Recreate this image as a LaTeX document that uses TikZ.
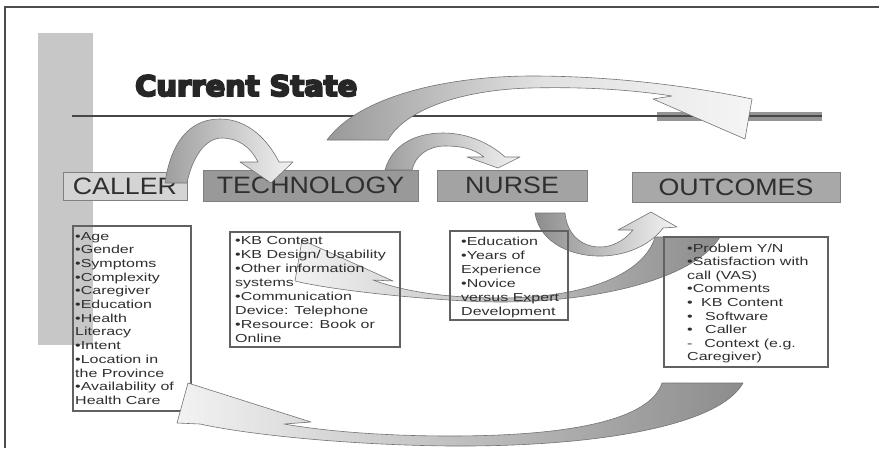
\documentclass[tikz,border=0pt]{standalone}
\usepackage{graphicx}
\usepackage{fontspec}
\setmainfont{Liberation Sans}
\newfontfamily\titlefont{DejaVu Sans}
\definecolor{ink}{HTML}{2F2F2F}

% stretched category label
\newcommand\catlabel[1]{\scalebox{1.13}[1]{#1}}
% block of detail lines: #1 = line distance, #2 = lines
\newcommand\detaillines[2]{\scalebox{1.38}[1]{\fontsize{11.6}{#1}\selectfont\begin{tabular}[t]{@{}l@{}}#2\end{tabular}}}
% heavy title text: glyphs filled and outlined
\newcommand\heavytext[1]{\special{pdf:literal direct 2 Tr 0.7 w}#1\special{pdf:literal direct 0 Tr}}

\tikzset{
  catbox/.style={rectangle, draw=black!50, line width=0.6pt, inner sep=0pt,
    text=ink, font=\fontsize{23.7}{24}\selectfont},
  detailbox/.style={rectangle, draw=black!62, line width=1.2pt, inner sep=0pt},
  detailtext/.style={anchor=base west, inner sep=0pt, text=ink},
  blockarrow/.style={draw=black!55, line width=0.6pt, line join=round},
}

\begin{document}
\begin{tikzpicture}[x=1pt, y=-1pt]
\useasboundingbox (0,0) rectangle (879,448);
\fill[white] (0,0) rectangle (879,448);

% page frame
\draw[black!70, line width=1.6pt] (5,448) -- (5,7) -- (879,7);

% grey side bar
\fill[black!22] (38,33) rectangle (93,345);

% title
\node[anchor=base west, inner sep=0pt, text=black!85] (title) at (135,96)
  {\resizebox{222pt}{21pt}{\titlefont\bfseries\heavytext{Current State}}};

% rule under the title
\fill[black!42] (657,112) rectangle (822,121);
\draw[black!72, line width=1.4pt] (72,116) -- (822,116);

% category labels
\node[catbox, fill=black!17, minimum width=124pt, minimum height=28pt] (caller) at (125,186) {\catlabel{CALLER}};
\node[catbox, fill=black!40, minimum width=215pt, minimum height=31pt] (tech) at (310.5,185.5) {\catlabel{TECHNOLOGY}};
\node[catbox, fill=black!36, minimum width=150pt, minimum height=31pt] (nurse) at (512,185.5) {\catlabel{NURSE}};
\node[catbox, fill=black!34, minimum width=208pt, minimum height=30pt] (outcomes) at (736,187) {\catlabel{OUTCOMES}};

% caller -> technology
\path[blockarrow, left color=black!38, right color=black!5]
  (165,183) .. controls (172,135) and (195,119) .. (220,119)
  .. controls (248,119) and (268,140) .. (279,162)
  -- (293,162) -- (271,183) -- (240,162) -- (258,162)
  .. controls (250,146) and (237,138) .. (222,138)
  .. controls (205,138) and (192,158) .. (187,183) -- cycle;

% technology -> nurse
\path[blockarrow, left color=black!38, right color=black!5]
  (385,170) .. controls (392,145) and (415,133) .. (443,133)
  .. controls (470,133) and (492,145) .. (505,157)
  -- (520,157) -- (498,168) -- (467,157) -- (484,157)
  .. controls (473,148) and (460,146) .. (445,146)
  .. controls (428,146) and (415,156) .. (412,170) -- cycle;

% long arc over the title rule
\path[blockarrow, left color=black!40, right color=black!4, middle color=black!12]
  (327,140) .. controls (360,95) and (450,76) .. (532,76)
  .. controls (620,76) and (700,88) .. (752,99)
  -- (745,139) -- (653,99) -- (672,96)
  .. controls (620,88) and (570,87) .. (530,88)
  .. controls (460,90) and (405,110) .. (388,140) -- cycle;

% outcomes -> technology
\path[blockarrow, left color=black!5, right color=black!45]
  (655,237) -- (720,237)
  .. controls (695,278) and (600,302) .. (500,302)
  .. controls (450,302) and (340,292) .. (295,281)
  -- (302,240) -- (393,281) -- (373,280)
  .. controls (400,290) and (440,298) .. (500,298)
  .. controls (590,298) and (645,272) .. (655,237) -- cycle;

% nurse -> outcomes
\path[blockarrow, left color=black!45, right color=black!4]
  (535,213) .. controls (540,245) and (575,257) .. (603,256)
  .. controls (630,255) and (652,243) .. (663,228)
  -- (677,227) -- (651,212) -- (618,230) -- (633,230)
  .. controls (624,241) and (612,247) .. (600,247)
  .. controls (582,247) and (567,235) .. (565,213) -- cycle;

% detail boxes
\node[detailbox, minimum width=118pt, minimum height=185pt] (callerbox) at (132,318.5) {};
\node[detailbox, minimum width=170pt, minimum height=115pt] (techbox) at (315,289.5) {};
\node[detailbox, minimum width=118pt, minimum height=89pt] (nursebox) at (509,275.5) {};
\node[detailbox, minimum width=164pt, minimum height=130pt] (outbox) at (746,302) {};

\node[detailtext] (callertext) at (75,240) {\detaillines{13.7}{%
•Age\\ •Gender\\ •Symptoms\\ •Complexity\\ •Caregiver\\ •Education\\ •Health\\ Literacy\\
•Intent\\ •Location in\\ the Province\\ •Availability of\\ Health Care}};

\node[detailtext] (techtext) at (235,244) {\detaillines{14}{%
•KB Content\\ •KB Design/ Usability\\ •Other information\\ systems\\ •Communication\\
Device: Telephone\\ •Resource: Book or\\ Online}};

\node[detailtext] (nursetext) at (461,245) {\detaillines{14}{%
•Education\\ •Years of\\ Experience\\ •Novice\\ versus Expert\\ Development}};

\node[detailtext] (outtext) at (687,252) {\detaillines{13.6}{%
•Problem Y/N\\ •Satisfaction with\\ call (VAS)\\ •Comments\\ •\hspace{6.1pt}KB Content\\
•\hspace{9pt}Software\\ •\hspace{9pt}Caller\\ -\hspace{8.5pt}Context (e.g.\\ Caregiver)}};

% outcomes -> caller (bottom arc)
\path[blockarrow, left color=black!5, right color=black!45]
  (662,383) -- (743,383)
  .. controls (720,425) and (600,447) .. (450,446)
  .. controls (350,445) and (250,435) .. (200,424)
  -- (177,423) -- (188,383) -- (311,422) -- (284,424)
  .. controls (330,432) and (390,436) .. (450,436)
  .. controls (570,436) and (650,420) .. (662,383) -- cycle;
\end{tikzpicture}
\end{document}
